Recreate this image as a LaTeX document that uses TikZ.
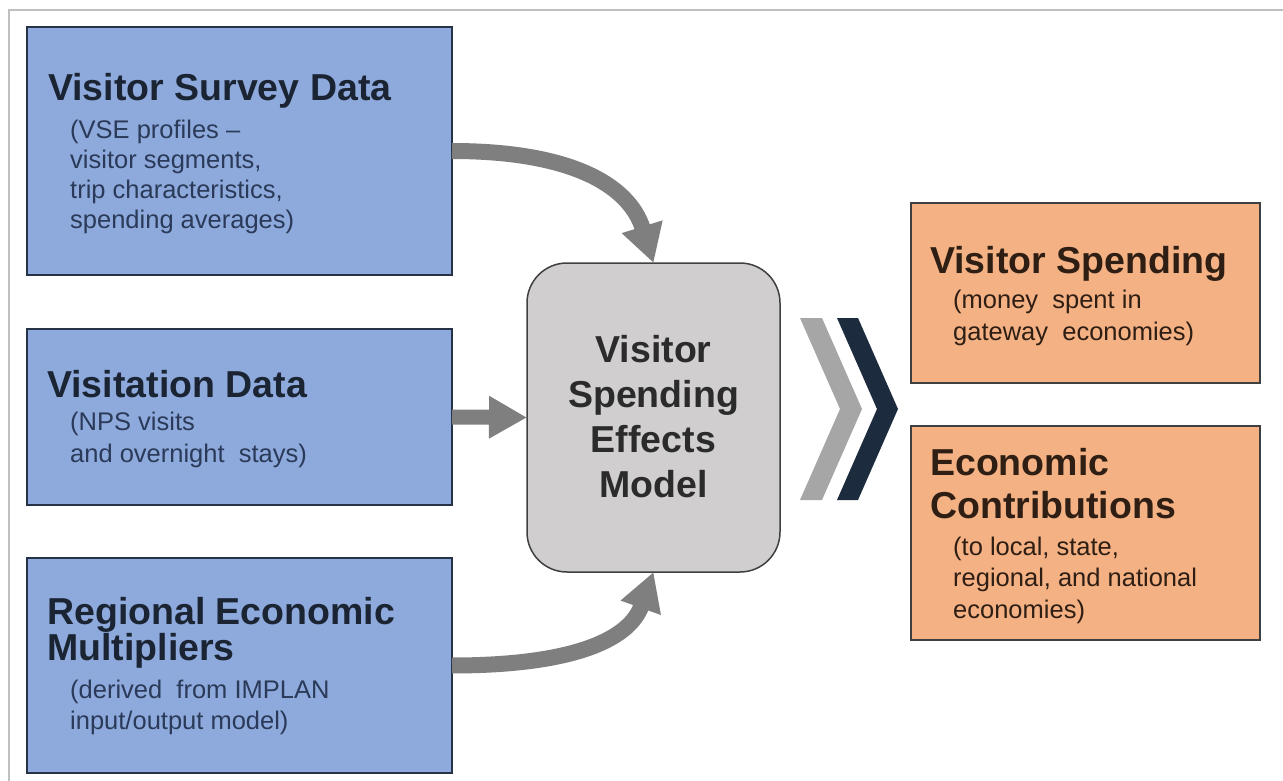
\documentclass[tikz,border=0pt]{standalone}
\usepackage{fontspec}
\setmainfont{Liberation Sans}
\usetikzlibrary{arrows.meta}
\definecolor{bluefill}{HTML}{8EAADC}
\definecolor{blueborder}{HTML}{263246}
\definecolor{orangefill}{HTML}{F4B183}
\definecolor{orangeborder}{HTML}{3F3F3F}
\definecolor{grayfill}{HTML}{D0CECE}
\definecolor{grayborder}{HTML}{404040}
\definecolor{arrgray}{HTML}{7F7F7F}
\definecolor{chevgray}{HTML}{A6A6A6}
\definecolor{chevnavy}{HTML}{1D2B3F}
\definecolor{framegray}{HTML}{BFBFBF}
\definecolor{bluetitle}{HTML}{1B2433}
\definecolor{bluesub}{HTML}{2A3A58}
\definecolor{orangetext}{HTML}{2E1E14}
\definecolor{graytext}{HTML}{2B2B2B}
\tikzset{
  box/.style={inner sep=0pt, outer sep=0pt, line width=1.8pt},
  bluebox/.style={box, fill=bluefill, draw=blueborder, minimum width=425pt},
  orangebox/.style={box, fill=orangefill, draw=orangeborder, minimum width=349pt},
  modelbox/.style={box, fill=grayfill, draw=grayborder, line width=1.5pt, rounded corners=40pt, minimum width=253pt, minimum height=309pt},
  ttl/.style={inner sep=0pt, anchor=base west, align=left, font=\fontsize{37.5}{36}\selectfont\bfseries},
  subtxt/.style={inner sep=0pt, anchor=base west, align=left, font=\fontsize{25.5}{31}\selectfont},
  arr/.style={draw=arrgray, line width=16pt, -{Triangle[length=38pt 0 1, width=40pt 0 1]}},
}
\begin{document}
\begin{tikzpicture}[x=1pt, y=-1pt]
\useasboundingbox[fill=white] (0,0) rectangle (1283,781);
\draw[framegray, line width=2pt] (1283,10) -- (9,10) -- (9,781);

% input boxes (anchor = baseline of the last line)
\node[bluebox, minimum height=248pt] (vs) at (239.5,151) {};
\node[bluebox, minimum height=176pt] (vd) at (239.5,417) {};
\node[bluebox, minimum height=215pt] (rm) at (239.5,665.5) {};

\node[ttl, text=bluetitle] (vsT) at (48,101) {Visitor Survey Data};
\node[subtxt, text=bluesub, font=\fontsize{25.5}{30}\selectfont] (vsS) at (70,228) {(VSE profiles –\\visitor segments,\\trip characteristics,\\spending averages)};

\node[ttl, text=bluetitle] (vdT) at (47,397) {Visitation Data};
\node[subtxt, text=bluesub, font=\fontsize{25.5}{32}\selectfont] (vdS) at (70,462) {(NPS visits\\and overnight\ \ stays)};

\node[ttl, text=bluetitle] (rmT) at (47,660) {Regional Economic\\Multipliers};
\node[subtxt, text=bluesub] (rmS) at (70,729) {(derived\ \ from IMPLAN\\input/output model)};

% model box
\node[modelbox] (sem) at (653.5,417.5) {};
\node[inner sep=0pt, anchor=base, align=center, text=graytext,
      font=\fontsize{37.5}{45}\selectfont\bfseries] (semT) at (653.5,497)
      {Visitor\\Spending\\Effects\\Model};

% output boxes
\node[orangebox, minimum height=180pt] (vsp) at (1085.5,293) {};
\node[orangebox, minimum height=214pt] (ec) at (1085.5,533) {};

\node[ttl, text=orangetext] (vspT) at (930,273) {Visitor Spending};
\node[subtxt, text=orangetext, font=\fontsize{25.5}{32}\selectfont] (vspS) at (953,340) {(money\ \ spent in\\gateway\ \ economies)};

\node[ttl, text=orangetext, font=\fontsize{37.5}{43}\selectfont\bfseries] (ecT) at (930,518) {Economic\\Contributions};
\node[subtxt, text=orangetext, font=\fontsize{25.5}{31.5}\selectfont] (ecS) at (953,618) {(to local, state,\\regional, and national\\economies)};

% arrows
\draw[arr] (vs.east) .. controls +(115,0) and +(-25,-80) .. (sem.north);
\draw[arr, line width=15pt] (vd.east) -- (sem.west);
\draw[arr] (rm.east) .. controls +(115,0) and +(-25,70) .. (sem.south);

% chevrons
\fill[chevgray] (800,318) -- (822,318) -- (862,409) -- (822,500) -- (800,500) -- (840,409) -- cycle;
\fill[chevnavy] (837,318) -- (858,318) -- (898,409) -- (858,500) -- (837,500) -- (877,409) -- cycle;
\end{tikzpicture}
\end{document}
